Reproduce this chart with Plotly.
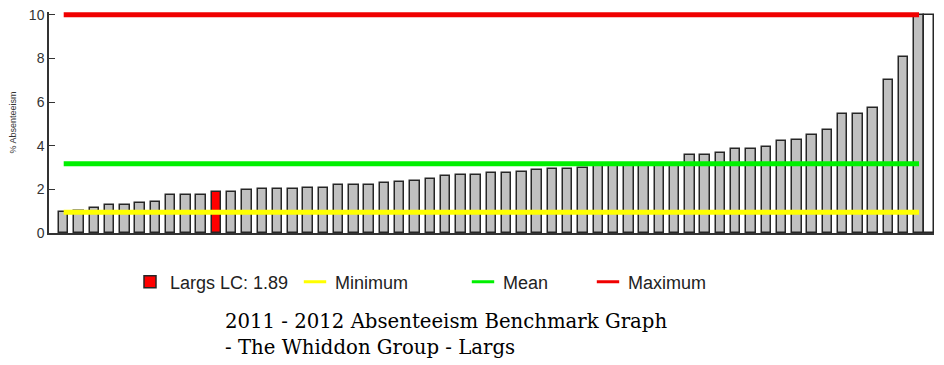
import plotly.graph_objects as go

# ---- data ----
categories = list(range(1, 58))
values = [0.95, 1.00, 1.13, 1.30, 1.30, 1.36, 1.42, 1.75, 1.75, 1.75,
          1.89, 1.89, 1.96, 2.02, 2.02, 2.02, 2.06, 2.06, 2.20, 2.20,
          2.20, 2.27, 2.33, 2.40, 2.46, 2.60, 2.67, 2.67, 2.73, 2.73,
          2.81, 2.87, 2.93, 2.93, 3.00, 3.05, 3.08, 3.10, 3.12, 3.15,
          3.18, 3.59, 3.59, 3.67, 3.87, 3.87, 3.94, 4.20, 4.27, 4.47,
          4.74, 5.45, 5.45, 5.73, 7.00, 8.07, 10.0]
highlight_index = 10
highlight_name = "Largs LC: 1.89"
extra_bar_value = [10.0]
minimum_value = 0.95
mean_value = 3.17
maximum_value = 10.0
y_ticks = [0, 2, 4, 6, 8, 10]

others = [None if i == highlight_index else v for i, v in enumerate(values)]
hl_x = [categories[highlight_index]]
hl_y = [values[highlight_index]]

OUT = "#262626"
BAR_W = 0.62

# the page body has an 8px margin, so the figure is sized to fit the window
W, H = 936, 357
ML, MR, MT, MB = 41, 10, 4, 132
PW = W - ML - MR
PH = H - MT - MB

fig = go.Figure()
fig.add_trace(go.Bar(x=categories, y=others, width=BAR_W,
                     marker=dict(color="#c0c0c0", line=dict(color=OUT, width=1.5)),
                     showlegend=False, hoverinfo="y"))
fig.add_trace(go.Bar(x=hl_x, y=hl_y, width=BAR_W, name=highlight_name,
                     marker=dict(color="#ff0000", line=dict(color=OUT, width=1.5)),
                     legend="legend"))
fig.add_trace(go.Bar(x=[categories[-1]], y=extra_bar_value, width=0.65, offset=0.33,
                     marker=dict(color="#ffffff", line=dict(color=OUT, width=1.5)),
                     showlegend=False))

line_specs = [("Minimum", minimum_value, "#ffff00", "legend2"),
              ("Mean", mean_value, "#00f000", "legend3"),
              ("Maximum", maximum_value, "#f00000", "legend4")]
for name, val, col, lg in line_specs:
    fig.add_trace(go.Scatter(x=[categories[0], categories[-1]], y=[val, val],
                             mode="lines", line=dict(color=col, width=5),
                             cliponaxis=False, showlegend=False, hoverinfo="y"))
    fig.add_trace(go.Scatter(x=[None], y=[None], mode="markers", name=name,
                             marker=dict(symbol="line-ew", size=16, color=col,
                                         line=dict(color=col, width=3)),
                             legend=lg))

leg_font = dict(family="Liberation Sans, Arial, sans-serif", size=18, color="#222")
def leg(xpix):
    return dict(x=(xpix - 49) / PW, xanchor="left", y=-49 / PH, yanchor="middle",
                orientation="h", font=leg_font, bgcolor="rgba(0,0,0,0)",
                borderwidth=0, itemclick=False, itemdoubleclick=False)

fig.update_layout(
    width=W, height=H,
    margin=dict(l=ML, r=MR, t=MT, b=MB, autoexpand=False),
    paper_bgcolor="white", plot_bgcolor="white",
    barmode="overlay", bargap=0,
    legend=leg(130), legend2=leg(295), legend3=leg(463), legend4=leg(588),
    title=dict(text="2011 - 2012 Absenteeism Benchmark Graph<br>- The Whiddon Group - Largs",
               font=dict(family="DejaVu Serif, serif", size=19.7, color="#000"),
               x=217 / W, xanchor="left", xref="container",
               y=1 - 320 / H, yanchor="top", yref="container",
               pad=dict(l=0, r=0, t=0, b=0)),
    xaxis=dict(range=[0.037, 57.98], showline=True, linecolor="#333", linewidth=1.5,
               showticklabels=False, ticks="", showgrid=False, zeroline=False,
               automargin=False),
    yaxis=dict(range=[0, 10.13], tickvals=y_ticks, showline=True, linecolor="#333",
               linewidth=1.5, ticks="inside", ticklen=6, tickcolor="#333", tickwidth=1.2,
               showgrid=False, zeroline=False, automargin=False,
               ticklabeloverflow="allow",
               tickfont=dict(family="Liberation Sans, Arial, sans-serif", size=14, color="#333"),
               title=dict(text="% Absenteeism", standoff=20,
                          font=dict(family="Liberation Sans, Arial, sans-serif", size=9, color="#333"))),
)

fig.write_html("out.html")
